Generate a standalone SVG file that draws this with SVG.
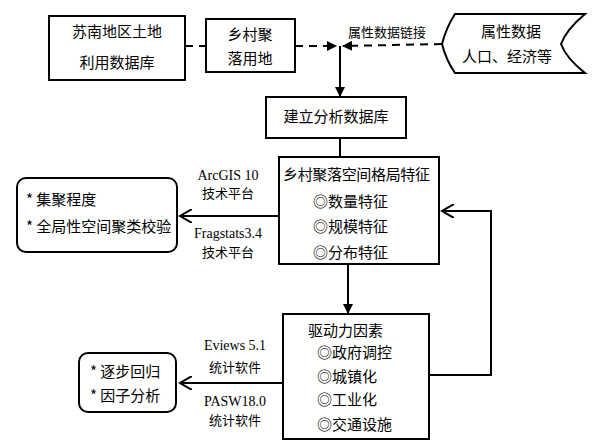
<svg xmlns="http://www.w3.org/2000/svg" width="599" height="448" viewBox="0 0 599 448">
<defs>
<style>
.box{fill:#fff;stroke:#000;stroke-width:2}
.ln{fill:none;stroke:#000;stroke-width:2}
.dash{fill:none;stroke:#000;stroke-width:2;stroke-dasharray:8 6}
.cn{font-family:"Noto Sans CJK SC","Noto Sans",sans-serif;font-size:15px;fill:#000}
.lb{font-family:"Noto Sans CJK SC","Noto Sans",sans-serif;font-size:13px;fill:#000}
.en{font-family:"Liberation Serif","Noto Sans CJK SC",serif;font-size:14px;fill:#000}
</style>
<marker id="fill" markerWidth="10" markerHeight="10" refX="9" refY="5" orient="auto" markerUnits="userSpaceOnUse"><path d="M0,0 L10,5 L0,10 Z" fill="#000"/></marker>
<marker id="open" markerWidth="14" markerHeight="14" refX="12" refY="7" orient="auto" markerUnits="userSpaceOnUse"><path d="M0,0 L12,7 L0,14" fill="none" stroke="#000" stroke-width="2"/></marker>
</defs>
<rect width="599" height="448" fill="#fff"/>
<g id="connectors">
<path class="dash" d="M185 46 L206 46"/>
<path class="dash" d="M295 46 L336 46" marker-end="url(#fill)"/>
<path class="dash" d="M442 44 L343 46" marker-end="url(#fill)"/>
<path class="ln" d="M340 46 L340 96" marker-end="url(#fill)"/>
<path class="ln" d="M340 138 L340 157"/>
<path class="ln" d="M348 264 L348 313" marker-end="url(#fill)"/>
<path class="ln" d="M279 216 L180 216" marker-end="url(#open)"/>
<path class="ln" d="M283 383 L180 383" marker-end="url(#open)"/>
<path class="ln" d="M429 375 L491 375 L491 211 L442 211" marker-end="url(#open)"/>
<text class="lb" x="348" y="37">属性数据链接</text>
<text class="en" x="228" y="180" text-anchor="middle">ArcGIS 10</text>
<text class="lb" x="228" y="198" text-anchor="middle">技术平台</text>
<text class="en" x="228" y="238" text-anchor="middle">Fragstats3.4</text>
<text class="lb" x="228" y="257" text-anchor="middle">技术平台</text>
<text class="en" x="235" y="350" text-anchor="middle">Eviews 5.1</text>
<text class="lb" x="235" y="372" text-anchor="middle">统计软件</text>
<text class="en" x="235" y="406" text-anchor="middle">PASW18.0</text>
<text class="lb" x="235" y="425" text-anchor="middle">统计软件</text>
</g>
<g id="n1">
<rect class="box" x="49" y="16" width="136" height="64"/>
<text class="cn" x="117" y="37" text-anchor="middle">苏南地区土地</text>
<text class="cn" x="117" y="68" text-anchor="middle">利用数据库</text>
</g>
<g id="n2">
<rect class="box" x="206" y="19" width="89" height="53"/>
<text class="cn" x="250" y="40" text-anchor="middle">乡村聚</text>
<text class="cn" x="250" y="64" text-anchor="middle">落用地</text>
</g>
<g id="n3">
<path class="box" d="M455 14 L585 14 Q566 30 561 44 Q566 58 585 73 L455 73 Q446 60 442 44 Q446 28 455 14 Z"/>
<text class="cn" x="511" y="37" text-anchor="middle">属性数据</text>
<text class="cn" x="507" y="62" text-anchor="middle">人口、经济等</text>
</g>
<g id="n4">
<rect class="box" x="266" y="97" width="140" height="41"/>
<text class="cn" x="336" y="122" text-anchor="middle">建立分析数据库</text>
</g>
<g id="n5">
<rect class="box" x="279" y="157" width="160" height="107"/>
<text class="cn" x="283" y="180" textLength="147">乡村聚落空间格局特征</text>
<text class="cn" x="313" y="207">◎数量特征</text>
<text class="cn" x="313" y="232">◎规模特征</text>
<text class="cn" x="313" y="258">◎分布特征</text>
</g>
<g id="n6">
<rect class="box" x="17" y="178" width="160" height="74" rx="9"/>
<text class="cn" x="26" y="205">* 集聚程度</text>
<text class="cn" x="26" y="232">* 全局性空间聚类校验</text>
</g>
<g id="n7">
<rect class="box" x="283" y="314" width="146" height="125"/>
<text class="cn" x="308" y="336">驱动力因素</text>
<text class="cn" x="317" y="358">◎政府调控</text>
<text class="cn" x="317" y="382">◎城镇化</text>
<text class="cn" x="317" y="405">◎工业化</text>
<text class="cn" x="317" y="430">◎交通设施</text>
</g>
<g id="n8">
<rect class="box" x="79" y="353" width="97" height="59" rx="9"/>
<text class="cn" x="90" y="377">* 逐步回归</text>
<text class="cn" x="90" y="401">* 因子分析</text>
</g>
</svg>
